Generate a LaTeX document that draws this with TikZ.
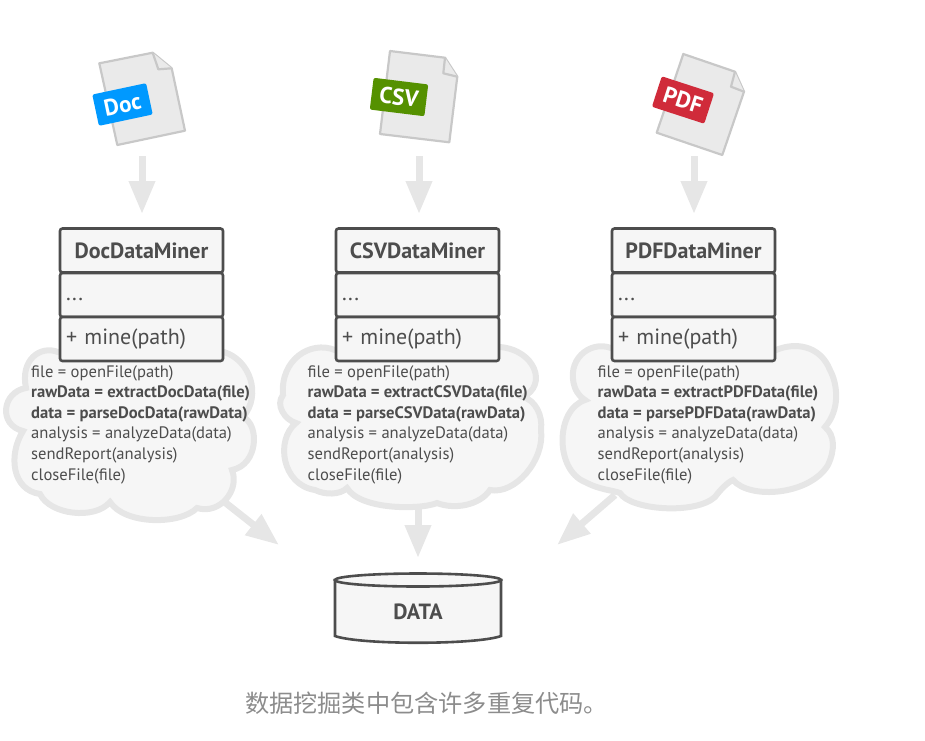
\documentclass[tikz,border=0pt]{standalone}
\usepackage{fontspec}
\setmainfont{PT Sans}
\newfontfamily\cjk{Noto Sans CJK SC}
\usetikzlibrary{arrows.meta,calc}
\definecolor{inkgray}{HTML}{4D4D4D}
\definecolor{cloudfill}{HTML}{F6F6F6}
\definecolor{cloudline}{HTML}{E6E6E6}
\definecolor{pagefill}{HTML}{EAEAEA}
\definecolor{pageline}{HTML}{C8C8C8}
\tikzset{
  minerbox/.style={draw=inkgray,line width=2.6pt,fill=cloudfill,rounded corners=2.5pt,minimum width=163pt,minimum height=44pt,inner sep=0pt,font=\fontsize{22}{24}\selectfont,text=inkgray},
  cloudshape/.style={draw=cloudline,line width=6pt,fill=cloudfill},
  codetext/.style={anchor=north west,align=left,inner sep=0pt,text=inkgray,font=\fontsize{16.6}{20.6}\selectfont},
  flow/.style={draw=cloudline,line width=7pt,-{Triangle[width=25pt,length=33pt]}},
  filepage/.style={draw=pageline,line width=2.2pt,fill=pagefill,line join=round},
  filetag/.style={rounded corners=2pt,inner sep=0pt,minimum width=55pt,minimum height=32pt,text=white,font=\bfseries\fontsize{23}{24}\selectfont},
}
\begin{document}
\begin{tikzpicture}[x=1pt,y=-1pt]
      \useasboundingbox (0,0) rectangle (925,740);

      \draw[filepage] (99.3,63.3) -- (152.7,52.7) -- (171.7,68.3) -- (185,130.7) -- (117.3,145) -- cycle;
      \draw[filepage] (152.7,52.7) -- (158.3,69.3) -- (171.7,68.3);
      \draw[filepage] (390,51) -- (445,57.7) -- (457.3,76.7) -- (449.3,142.3) -- (380,134) -- cycle;
      \draw[filepage] (445,57.7) -- (443.3,73.3) -- (457.3,76.7);
      \draw[filepage] (683.3,54) -- (735,71.7) -- (744,91.7) -- (722.3,155) -- (656.7,132.7) -- cycle;
      \draw[filepage] (735,71.7) -- (731,86.7) -- (744,91.7);

      \node[filetag,fill={rgb,255:red,0;green,153;blue,255},rotate=12] (tagDoc) at (122.5,104.5) {Doc};
      \node[filetag,fill={rgb,255:red,85;green,145;blue,0},rotate=-7] (tagCSV) at (399,97) {CSV};
      \node[filetag,fill={rgb,255:red,208;green,43;blue,58},rotate=-18] (tagPDF) at (683,100) {PDF};

      \draw[cloudshape] (58,352) .. controls (40,345) and (20,360) .. (26,388) .. controls (2,392) and (-2,425) .. (23,431) .. controls (8,455) and (12,490) .. (40,494) .. controls (50,515) and (95,520) .. (110,502) .. controls (125,525) and (180,525) .. (197,508) .. controls (220,515) and (240,490) .. (232,470) .. controls (258,465) and (260,425) .. (243,417) .. controls (262,395) and (250,360) .. (224,352) -- cycle;
      \draw[cloudshape] (335,350) .. controls (310,340) and (280,360) .. (283,395) .. controls (275,405) and (285,420) .. (296,423) .. controls (275,440) and (282,485) .. (315,490) .. controls (325,495) and (340,495) .. (347,488) .. controls (360,510) and (420,510) .. (437,503) .. controls (455,510) and (480,505) .. (490,490) .. controls (515,495) and (545,460) .. (541,430) .. controls (543,415) and (535,400) .. (523,397) .. controls (548,385) and (535,350) .. (500,347) -- cycle;
      \draw[cloudshape] (611,348) .. controls (590,340) and (565,360) .. (575,388) .. controls (578,395) and (582,398) .. (585,400) .. controls (555,410) and (555,470) .. (585,482) .. controls (600,490) and (612,490) .. (620,493) .. controls (630,510) and (695,515) .. (715,497) .. controls (720,490) and (728,482) .. (733,480) .. controls (750,500) and (810,495) .. (828,465) .. controls (835,450) and (835,435) .. (825,427) .. controls (840,410) and (838,385) .. (830,370) .. controls (820,345) and (795,342) .. (776,350) -- cycle;

      \foreach \name/\xoff/\xcode/\xflow in {Doc/0/31/142,CSV/276/307.5/419,PDF/552/597.5/694} {
        \node[minerbox,font=\bfseries\fontsize{22}{24}\selectfont] (name\name) at (141.5+\xoff,250.5) {\name DataMiner};
        \node[minerbox,text width=151pt,align=left] (attr\name) at (141.5+\xoff,295) {\vphantom{(}...};
        \node[minerbox,text width=151pt,align=left] (oper\name) at (141.5+\xoff,339) {+ mine(path)};
        \node[codetext] (code\name) at (\xcode,365) {file = openFile(path)\\
          \textbf{rawData = extract\name Data(file)}\\
          \textbf{data = parse\name Data(rawData)}\\
          analysis = analyzeData(data)\\
          sendReport(analysis)\\
          closeFile(file)};
        \coordinate (from\name) at (\xflow,156);
        \coordinate (to\name) at (\xflow,214);
        \draw[flow] (from\name) -- (to\name);
      }

      \draw[draw=inkgray,line width=2.6pt,fill=cloudfill] (335,580) -- (335,636) .. controls (360,645) and (476,645) .. (501,636) -- (501,580) -- cycle;
      \draw[draw=inkgray,line width=2.6pt,fill=cloudfill] (418,580) ellipse (83pt and 6.5pt);
      \node[text=inkgray,font=\bfseries\fontsize{22}{24}\selectfont] (data) at (418,612) {DATA};

      \coordinate (leftstart) at (222,500);
      \coordinate (lefttip) at (279,545);
      \coordinate (midstart) at (418,507);
      \coordinate (midtip) at (418,558);
      \coordinate (rightstart) at (615,495);
      \coordinate (righttip) at (557,545);
      \draw[flow] (leftstart) -- (lefttip);
      \draw[flow] (midstart) -- (midtip);
      \draw[flow] (rightstart) -- (righttip);

      \node[text={rgb,255:red,140;green,140;blue,140},font=\cjk\fontsize{24.2}{26}\selectfont] (caption) at (426.5,703) {数据挖掘类中包含许多重复代码。};
\end{tikzpicture}
\end{document}
